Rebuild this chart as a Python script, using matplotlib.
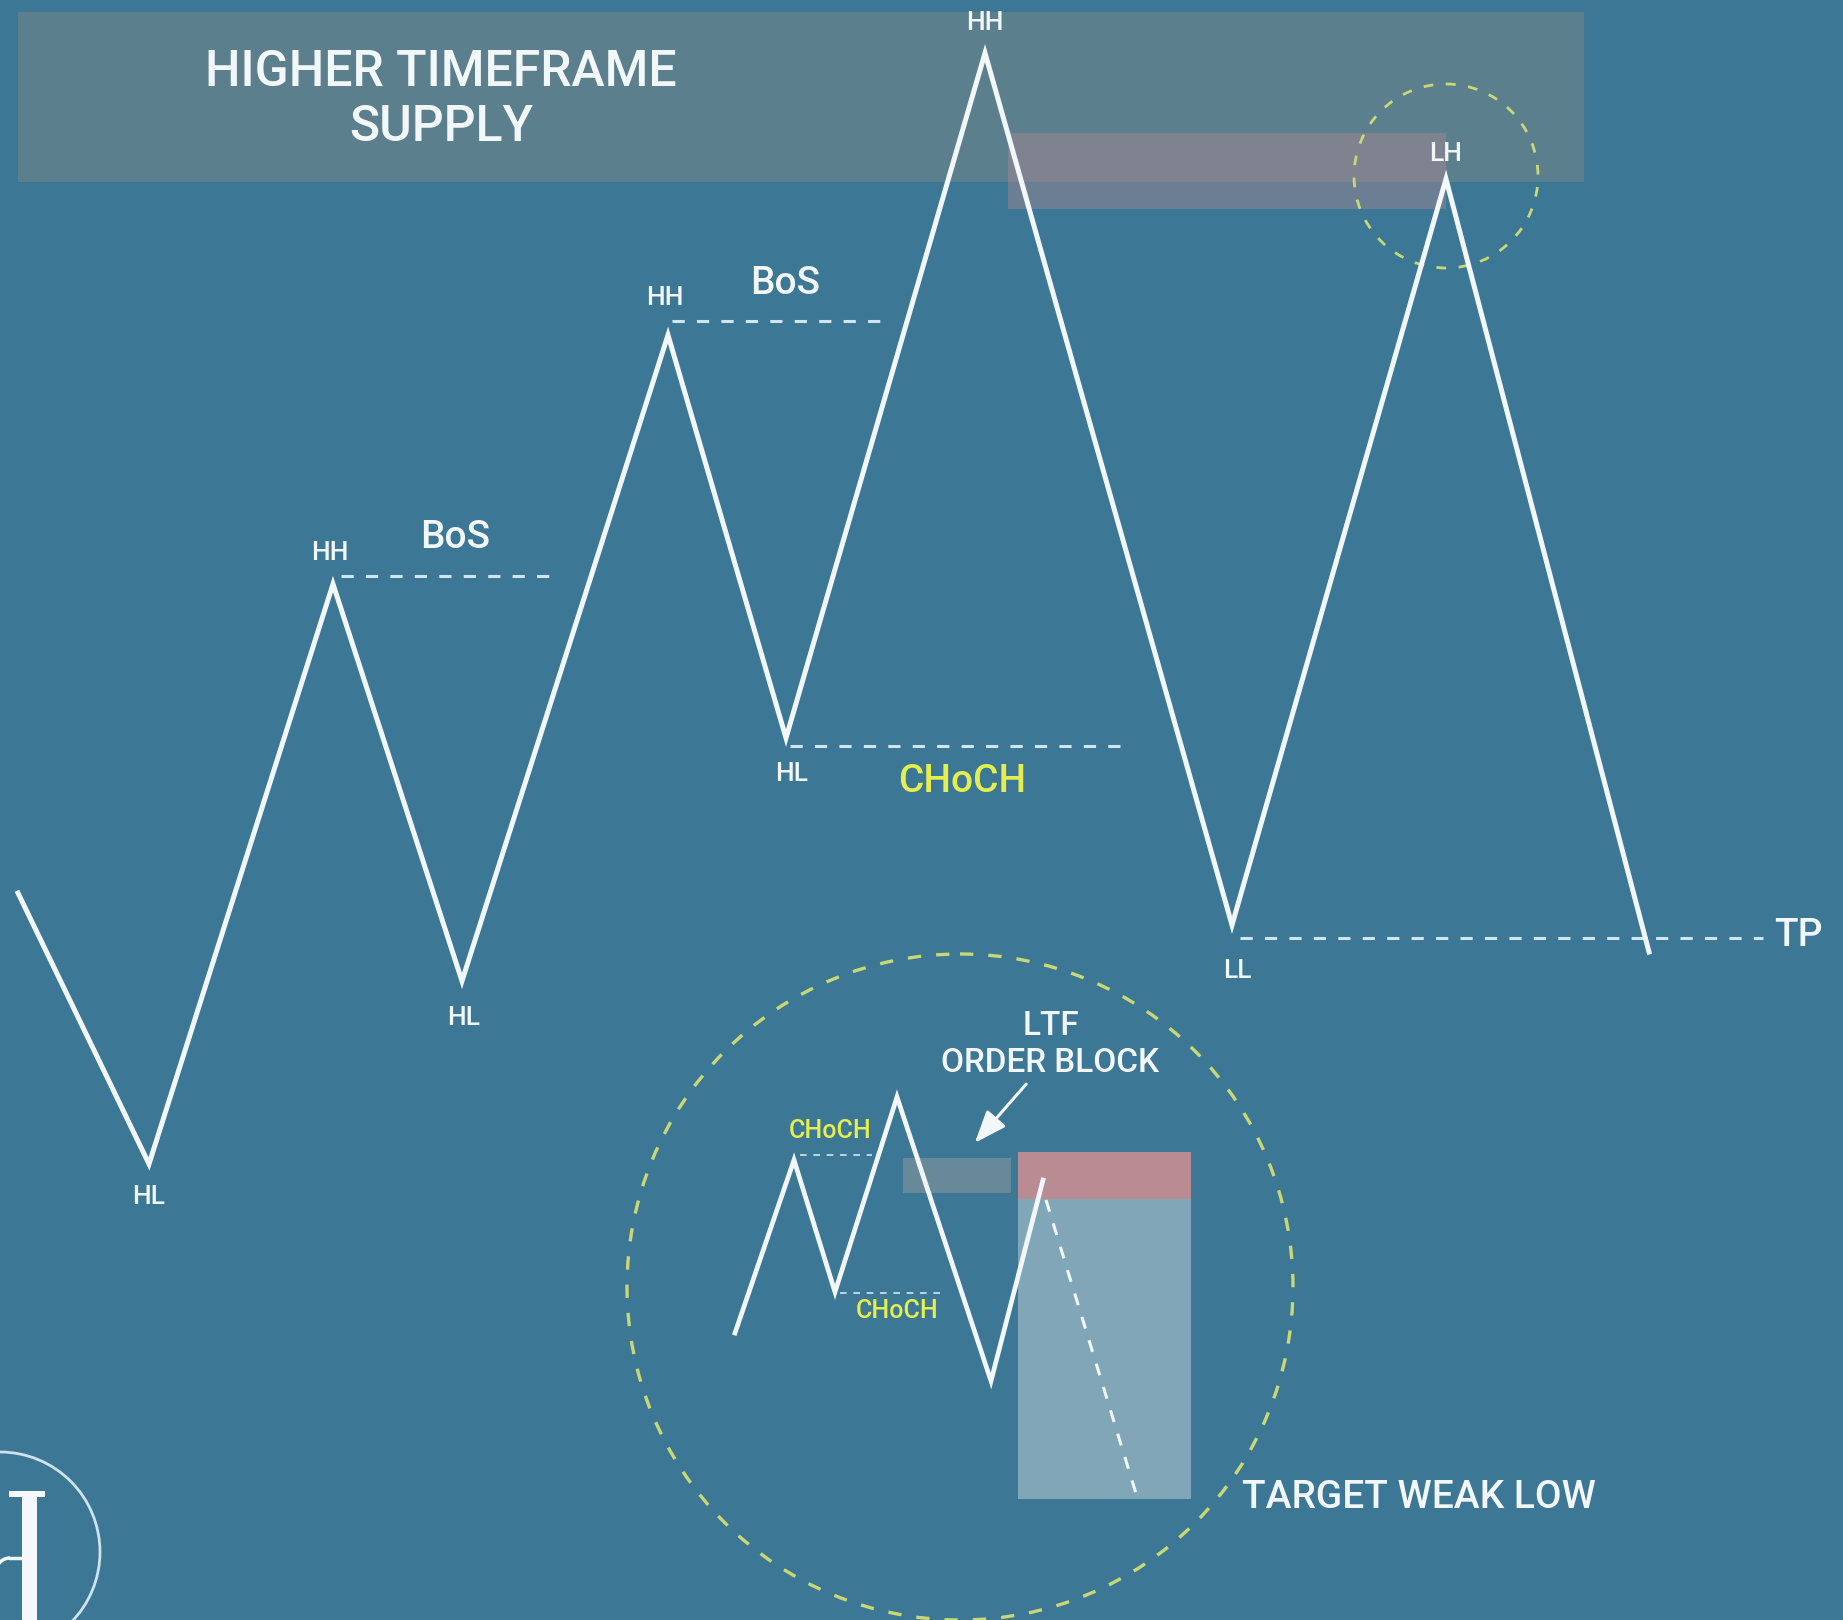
import matplotlib
matplotlib.use("Agg")
import matplotlib.pyplot as plt
from matplotlib.patches import Rectangle, Circle, FancyArrowPatch, Arc

# ---- data (positions in picture pixel units, y grows downward) ----
main_x = [18, 149, 333, 462, 668, 786, 985, 1232, 1446, 1649]
main_y = [893, 1164, 584, 981, 335, 738, 53, 925, 179, 952]
swing_labels = ["HL", "HH", "HL", "HH", "HL", "HH", "LL", "LH"]
swing_label_x = [149, 330, 464, 665, 792, 985, 1237, 1446]
swing_label_y = [1197, 553, 1018, 298, 774, 23, 971, 154]

inner_x = [735, 794, 835, 897, 991, 1043]
inner_y = [1333, 1160, 1292, 1097, 1381, 1180]
proj_x = [1046, 1138]
proj_y = [1200, 1500]

bos_lines = [(341, 552, 576), (672, 884, 321)]   # x0, x1, y
bos_text = [(455, 538), (785, 284)]
choch_line = (790, 1126, 746)
choch_text = (962, 781)
tp_line = (1240, 1763, 938)
tp_text = (1798, 936)

inner_choch_lines = [(800, 872, 1155), (840, 942, 1293)]
inner_choch_text = [(830, 1131), (897, 1311)]

supply_box = (18, 12, 1584, 182)      # x0, y0, x1, y1
lh_box = (1008, 133, 1446, 209)
ob_box = (903, 1158, 1011, 1193)
sl_box = (1018, 1152, 1191, 1199)
tp_box = (1018, 1199, 1191, 1499)

big_circle = (960, 1287, 333)
small_circle = (1446, 176, 92)
logo_circle = (0, 1552, 100)

BG = "#3c7795"
WHITE = "#f2f7f9"
YELLOW = "#e4ee4e"
CIRC = "#c9d874"
DASH = "#cfe6f0"

plt.rcParams['font.family'] = ['Roboto', 'DejaVu Sans']
plt.rcParams['font.weight'] = 'medium'

fig = plt.figure(figsize=(18.43, 16.20), dpi=100)
fig.patch.set_facecolor(BG)
ax = fig.add_axes([0, 0, 1, 1])
ax.set_facecolor(BG)
ax.set_xlim(0, 1843)
ax.set_ylim(1620, 0)
ax.axis("off")

def rect(b, color, alpha=1.0, z=1):
    ax.add_patch(Rectangle((b[0], b[1]), b[2] - b[0], b[3] - b[1],
                           facecolor=color, edgecolor="none", alpha=alpha, zorder=z))

rect(supply_box, "#5b7f8d", z=1)
rect(lh_box, "#b08a94", alpha=0.42, z=2)

ax.text(441, 72, "HIGHER TIMEFRAME", color=WHITE, fontsize=36, ha="center", va="center", zorder=5)
ax.text(441, 127, "SUPPLY", color=WHITE, fontsize=36, ha="center", va="center", zorder=5)

# main zigzag
ax.plot(main_x, main_y, color=WHITE, lw=3.6, solid_joinstyle="miter", zorder=6)
for t, x, y in zip(swing_labels, swing_label_x, swing_label_y):
    ax.text(x, y, t, color=WHITE, fontsize=19, ha="center", va="center", zorder=7)

dash_kw = dict(color=DASH, lw=2.2, dashes=(4, 4), zorder=4)
for x0, x1, y in bos_lines:
    ax.plot([x0, x1], [y, y], **dash_kw)
for x, y in bos_text:
    ax.text(x, y, "BoS", color=WHITE, fontsize=28, ha="center", va="center", zorder=7)
ax.plot([choch_line[0], choch_line[1]], [choch_line[2]] * 2, **dash_kw)
ax.text(choch_text[0], choch_text[1], "CHoCH", color=YELLOW, fontsize=28, ha="center", va="center", zorder=7)
ax.plot([tp_line[0], tp_line[1]], [tp_line[2]] * 2, **dash_kw)
ax.text(tp_text[0], tp_text[1], "TP", color=WHITE, fontsize=28, ha="center", va="center", zorder=7)

# circles
ax.add_patch(Circle(big_circle[:2], big_circle[2], fill=False, edgecolor=CIRC,
                    lw=2.4, linestyle=(0, (4, 4.5)), zorder=3))
ax.add_patch(Circle(small_circle[:2], small_circle[2], fill=False, edgecolor=CIRC,
                    lw=2.0, linestyle=(0, (3.5, 4.5)), zorder=3))

# inner LTF structure
rect(ob_box, "#68899a", z=2)
rect(tp_box, "#80a6b8", z=2)
rect(sl_box, "#b98b93", z=2)
ax.plot(inner_x, inner_y, color=WHITE, lw=3.4, solid_joinstyle="miter", zorder=6)
ax.plot(proj_x, proj_y, color=WHITE, lw=2.2, dashes=(4, 4), zorder=6)
for x0, x1, y in inner_choch_lines:
    ax.plot([x0, x1], [y, y], color=DASH, lw=1.2, dashes=(4, 4), zorder=4)
for x, y in inner_choch_text:
    ax.text(x, y, "CHoCH", color=YELLOW, fontsize=18, ha="center", va="center", zorder=7)

ax.text(1051, 1026, "LTF", color=WHITE, fontsize=24, ha="center", va="center", zorder=7)
ax.text(1050, 1063, "ORDER BLOCK", color=WHITE, fontsize=24, ha="center", va="center", zorder=7)
ax.add_patch(FancyArrowPatch((1028, 1082), (973, 1145),
                             arrowstyle="-|>,head_length=9,head_width=3.5",
                             color=WHITE, lw=2.2, mutation_scale=2.2, zorder=7))

ax.text(1242, 1497, "TARGET WEAK LOW", color=WHITE, fontsize=28, ha="left", va="center", zorder=7)

# logo (bottom-left), drawn as a small graphic
ax.add_patch(Circle(logo_circle[:2], logo_circle[2], fill=False, edgecolor="#cfe3ec", lw=2.0, zorder=3))
ax.add_patch(Rectangle((22, 1496), 15, 124, facecolor="#f4f8fa", edgecolor="none", zorder=4))
ax.add_patch(Rectangle((9, 1491), 36, 6, facecolor="#f4f8fa", edgecolor="none", zorder=4))
ax.add_patch(Arc((10, 1572), 28, 28, theta1=180, theta2=270, edgecolor="#f4f8fa", lw=2.5, zorder=4))
ax.plot([10, 23], [1558, 1558], color="#f4f8fa", lw=2.5, zorder=4)

fig.savefig("out.png", dpi=100, facecolor=BG)
